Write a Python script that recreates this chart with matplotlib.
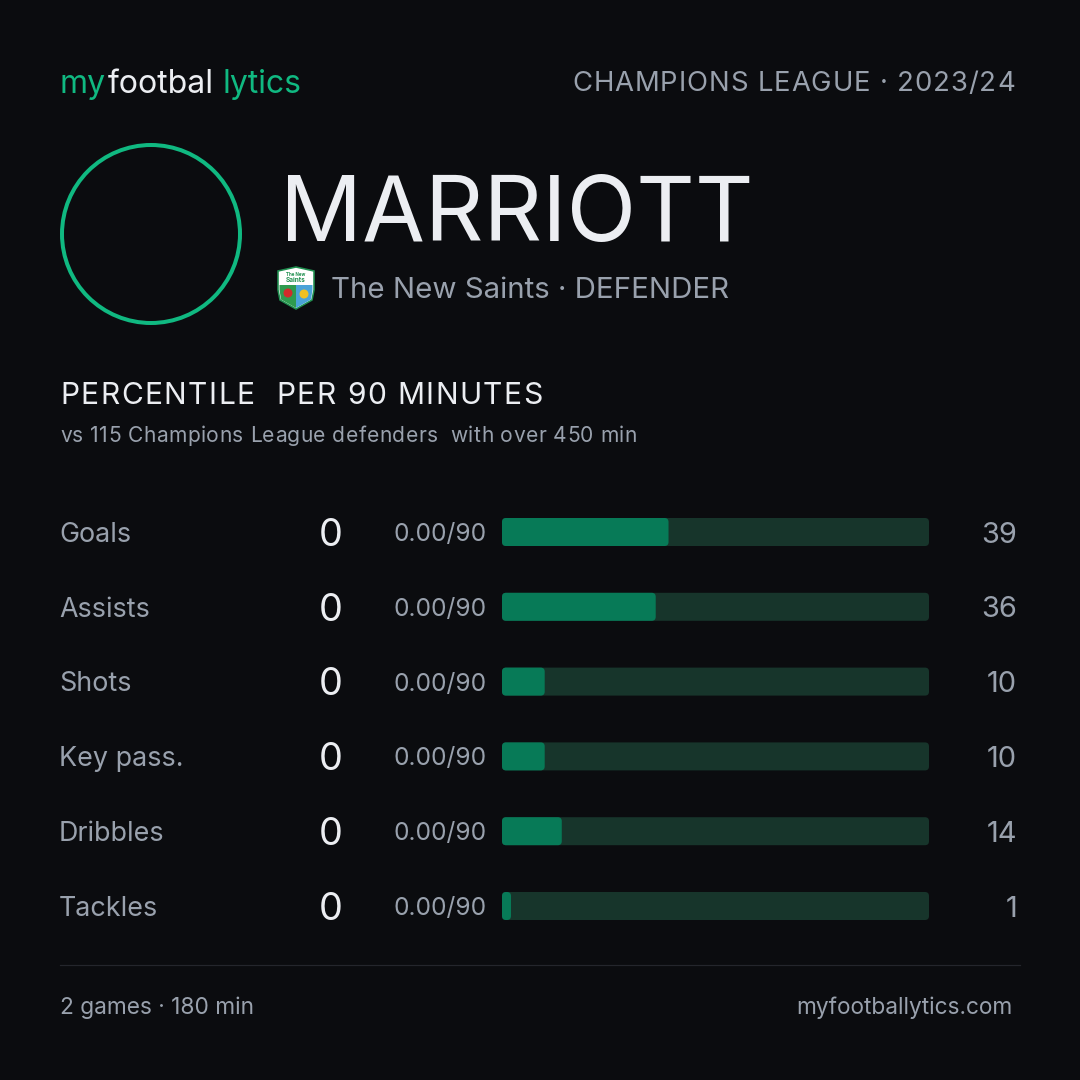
import matplotlib
matplotlib.use("Agg")
import matplotlib.pyplot as plt
from matplotlib.patches import FancyBboxPatch, Circle, Polygon

FONT = ['Inter', 'DejaVu Sans']
plt.rcParams['font.family'] = FONT

# ---------------- data ----------------
player_name = "MARRIOTT"
club = "The New Saints"
position = "DEFENDER"
competition = "CHAMPIONS LEAGUE · 2023/24"
section_title = "PERCENTILE  PER 90 MINUTES"
section_sub = "vs 115 Champions League defenders  with over 450 min"
metrics = ["Goals", "Assists", "Shots", "Key pass.", "Dribbles", "Tackles"]
totals = [0, 0, 0, 0, 0, 0]
per90 = ["0.00/90", "0.00/90", "0.00/90", "0.00/90", "0.00/90", "0.00/90"]
percentiles = [39, 36, 10, 10, 14, 1]
footer_left = "2 games · 180 min"
footer_right = "myfootballytics.com"

# ---------------- style ----------------
BG = "#0b0c0f"
GREEN = "#10b981"
WHITE = "#eceef2"
GRAY = "#99a1ad"
FILL = "#077a57"
TRACK = "#17352b"
LINE = "#24262c"

fig = plt.figure(figsize=(15, 15), dpi=72)
fig.patch.set_facecolor(BG)
ax = fig.add_axes([0, 0, 1, 1])
ax.set_xlim(0, 1080)
ax.set_ylim(1080, 0)
ax.axis("off")
ax.set_facecolor(BG)

fig.canvas.draw()
R = fig.canvas.get_renderer()


def text_w(s, fs, **kw):
    t = ax.text(0, 0, s, fontsize=fs, **kw)
    w = t.get_window_extent(renderer=R).width
    t.remove()
    return w


def spaced(x, y, s, fs, color, tracking=0.0, ha="left", **kw):
    """draw text with extra letter spacing; y is baseline"""
    ref_w = text_w("H", fs, **kw)
    total = text_w(s, fs, **kw) + tracking * (len(s) - 1)
    x0 = x - total if ha == "right" else x
    for i, ch in enumerate(s):
        if ch == " ":
            continue
        off = (text_w(s[:i] + "H", fs, **kw) - ref_w) if i > 0 else 0
        ax.text(x0 + off + tracking * i, y, ch, fontsize=fs, color=color,
                ha="left", va="baseline", **kw)


def btxt(x, cy, s, fs, color, ha="left", **kw):
    """place text so its cap-height centre sits at cy"""
    ax.text(x, cy + 0.364 * fs, s, fontsize=fs, color=color, ha=ha,
            va="baseline", **kw)


# ---------------- header ----------------
x = 60
t = ax.text(x, 93, "my", color=GREEN, fontsize=32, va="baseline", ha="left")
x = t.get_window_extent(renderer=R).x1 + 2
t = ax.text(x, 93, "footbal", color=WHITE, fontsize=32, va="baseline", ha="left")
x = t.get_window_extent(renderer=R).x1 + 8
ax.text(x, 93, "lytics", color=GREEN, fontsize=32, va="baseline", ha="left")

spaced(1015, 91, competition, 27.5, GRAY, tracking=0.9, ha="right")

# avatar circle
ax.add_patch(Circle((151, 234), 89, fill=False, ec=GREEN, lw=4))

# name
ax.text(280, 241, player_name, color=WHITE, fontsize=91, va="baseline", ha="left")

# club badge (simple shield)
bx, by = 278, 268
verts = [(bx, by + 3), (bx + 18, by - 1), (bx + 36, by + 3), (bx + 36, by + 22),
         (bx + 34, by + 32), (bx + 18, by + 41), (bx + 2, by + 32), (bx, by + 22),
         (bx, by + 3)]
ax.add_patch(Polygon(verts, closed=True, fc="#ffffff", ec="#1f8f4f", lw=1.6))
ax.add_patch(Polygon([(bx + 1.5, by + 17), (bx + 18, by + 17), (bx + 18, by + 40),
                      (bx + 3, by + 31.5), (bx + 1.5, by + 22)], closed=True,
                     fc="#2e9b4f", ec="none"))
ax.add_patch(Polygon([(bx + 18, by + 17), (bx + 34.5, by + 17), (bx + 34.5, by + 22),
                      (bx + 33, by + 31.5), (bx + 18, by + 40)], closed=True,
                     fc="#4aa3d8", ec="none"))
ax.add_patch(Circle((bx + 10, by + 25), 4.5, fc="#d22b2b", ec="none"))
ax.add_patch(Circle((bx + 26, by + 26), 4.5, fc="#f0c020", ec="none"))
ax.text(bx + 18, by + 6, "The New", color="#1f8f4f", fontsize=4.5, ha="center",
        va="center", fontweight="bold")
ax.text(bx + 18, by + 12, "Saints", color="#1f8f4f", fontsize=6.5, ha="center",
        va="center", fontweight="bold")

ax.text(331, 298, f"{club} · {position}", color=GRAY, fontsize=29.5,
        va="baseline", ha="left")

# ---------------- section title ----------------
spaced(60, 404, section_title, 30, WHITE, tracking=1.5)
spaced(60, 442, section_sub, 21, GRAY, tracking=0.45)

# ---------------- rows ----------------
row_y0 = 532
row_dy = 74.8
bar_x0, bar_x1 = 502, 929
bar_h = 28
W = bar_x1 - bar_x0
for i, (m, tot, p9, pct) in enumerate(zip(metrics, totals, per90, percentiles)):
    y = row_y0 + i * row_dy
    btxt(59, y, m, 26.9, GRAY)
    btxt(343, y, str(tot), 38, WHITE, ha="right")
    btxt(487, y, p9, 24.5, GRAY, ha="right")
    ax.add_patch(FancyBboxPatch((bar_x0 + 4, y - bar_h / 2 + 4), W - 8, bar_h - 8,
                                boxstyle="round,pad=4", fc=TRACK, ec="none"))
    fw = max(pct / 100 * W, 9)
    ax.add_patch(FancyBboxPatch((bar_x0 + 4, y - bar_h / 2 + 4), fw - 8, bar_h - 8,
                                boxstyle="round,pad=4", fc=FILL, ec="none"))
    btxt(1017, y, str(pct), 29, GRAY, ha="right")

# ---------------- footer ----------------
ax.plot([60, 1020], [965, 965], color=LINE, lw=1.2)
btxt(60, 1006, footer_left, 22.7, GRAY)
btxt(1013, 1006, footer_right, 22.7, GRAY, ha="right")

fig.savefig("out.png", dpi=72, facecolor=BG)
